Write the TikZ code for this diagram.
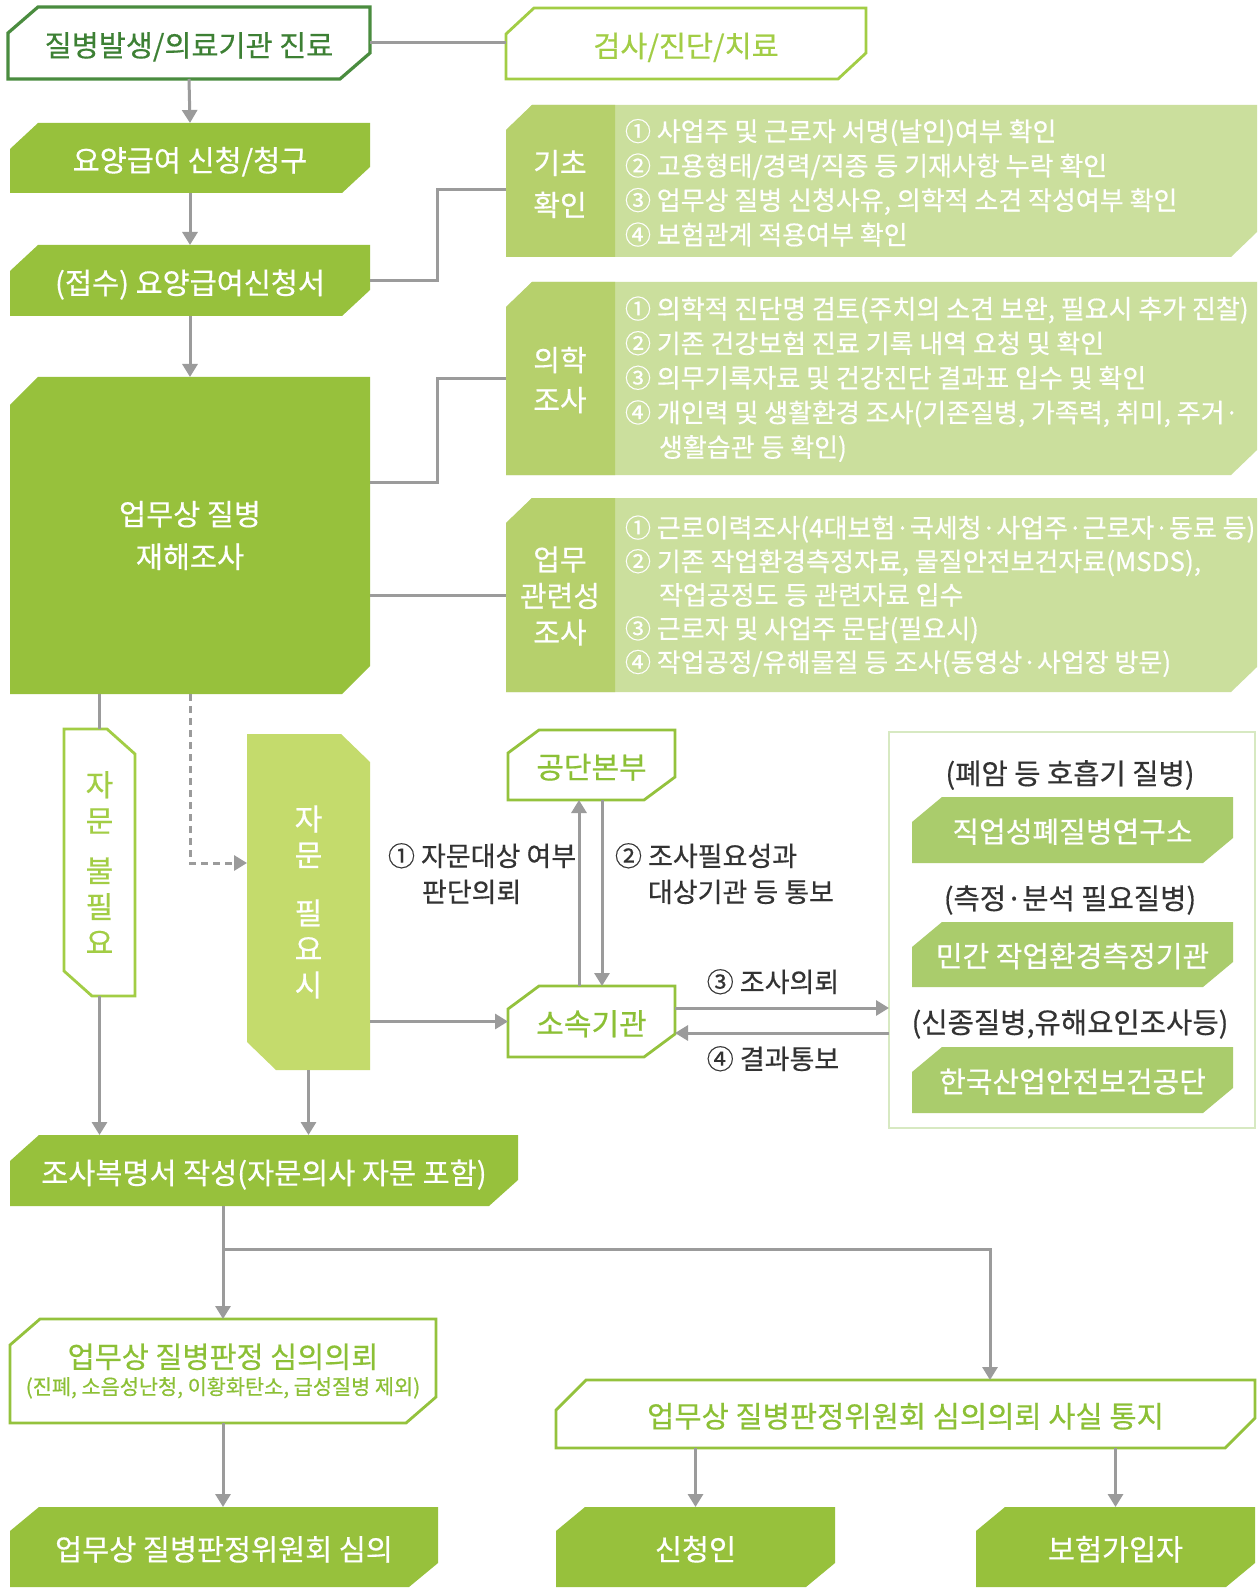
\documentclass[tikz,border=0pt]{standalone}
\usepackage{fontspec}
\setmainfont{Noto Sans CJK KR}[FakeBold=0.5]
\usetikzlibrary{calc,arrows.meta}
\pgfdeclarelayer{background}
\pgfsetlayers{background,main}
\definecolor{gMain}{HTML}{97C13C}
\definecolor{gDark}{HTML}{4A8C3F}
\definecolor{gDarkTxt}{HTML}{3D8034}
\definecolor{gBright}{HTML}{A2CD45}
\definecolor{gMid}{HTML}{94C23D}
\definecolor{gMidTxt}{HTML}{8CC036}
\definecolor{gPanL}{HTML}{B6D06C}
\definecolor{gPanR}{HTML}{CBDF9D}
\definecolor{gSoft}{HTML}{C4DB6C}
\definecolor{gSub}{HTML}{AACC6C}
\definecolor{gFrame}{HTML}{D7E9C2}
\definecolor{lineGray}{HTML}{9B9B9B}
\definecolor{txtDark}{HTML}{333333}

\newcommand\bnode[7]{\node[#1, minimum width={(#5-#3)*0.5pt}, minimum height={(#6-#4)*0.5pt}] (#2) at ({(#3+#5)/2},{(#4+#6)/2}) {#7};}
\newcommand\chamA[4]{\path[#1] ($(#2.north west)+(#3,0)$) -- (#2.north east) -- ($(#2.south east)+(0,-#4)$) -- ($(#2.south east)+(-#3,0)$) -- (#2.south west) -- ($(#2.north west)+(0,#4)$) -- cycle;}
\newcommand\chamB[4]{\path[#1] (#2.north west) -- ($(#2.north east)+(-#3,0)$) -- ($(#2.north east)+(0,#4)$) -- (#2.south east) -- ($(#2.south west)+(#3,0)$) -- ($(#2.south west)+(0,-#4)$) -- cycle;}
\newcommand\panelbg[1]{\chamA{fill=gPanR}{#1}{26}{25}\fill[gPanL] ($(#1.north west)+(26,0)$) -- ($(#1.north west)+(109,0)$) -- ($(#1.south west)+(109,0)$) -- (#1.south west) -- ($(#1.north west)+(0,25)$) -- cycle;}

\tikzset{
  every node/.style={inner sep=0pt, outer sep=0pt},
  one/.style={text height=1.39em, text depth=0.05em},
  box/.style={one, font=\fontsize{14.7}{18}\selectfont},
  fbox/.style={box, text=white},
  wbox/.style={one, text=gMidTxt, font=\fontsize{14.8}{18}\selectfont},
  subbox/.style={text height=1.3em, text depth=0.05em, text=white, font=\fontsize{14.5}{17}\selectfont},
  conn/.style={draw=lineGray, line width=1.5pt},
  arr/.style={conn, -{Triangle[width=7.5pt,length=6.5pt]}},
  darr/.style={arr, dash pattern=on 3.5pt off 2.5pt},
  ptxt/.style={anchor=base west, text=white, font=\fontsize{13}{15}\selectfont},
  plab/.style={text=white, align=center, font=\fontsize{14.5}{21}\selectfont},
  ltxt/.style={text=txtDark, font=\fontsize{13.5}{16}\selectfont},
  rtxt/.style={text=txtDark, font=\fontsize{14.3}{16}\selectfont},
  vtxt/.style={align=center, font=\fontsize{15}{18}\selectfont},
  wline/.style={line width=1.4pt, line join=miter},
}

\begin{document}
\begin{tikzpicture}[x=0.5pt, y=-0.5pt]
\useasboundingbox (0,0) rectangle (1259,1588);

% ---- top column
\bnode{box, text=gDarkTxt}{b1}{8}{7}{370}{79}{질병발생/의료기관 진료}
\bnode{box, text=gBright}{b2}{506}{8}{866}{79}{검사/진단/치료}
\bnode{fbox}{b3}{10}{123}{370}{193}{요양급여 신청/청구}
\bnode{fbox}{b4}{10}{245}{370}{316}{(접수) 요양급여신청서}
\bnode{text=white, align=center, font=\fontsize{14.7}{21.3}\selectfont}{b5}{10}{377}{370}{694}{업무상 질병\\재해조사}

% ---- panels
\bnode{}{pA}{506}{105}{1257}{257}{}
\bnode{}{pB}{506}{282}{1257}{475}{}
\bnode{}{pC}{506}{498}{1257}{692}{}
\node[plab] (pAl) at (560,184) {기초\\확인};
\node[plab, font=\fontsize{14.5}{20}\selectfont] (pBl) at (560,380) {의학\\조사};
\node[plab, font=\fontsize{14.5}{18.25}\selectfont] (pCl) at (560,596) {업무\\관련성\\조사};

\foreach \txt [count=\i] in {{① 사업주 및 근로자 서명(날인)여부 확인},{② 고용형태/경력/직종 등 기재사항 누락 확인},{③ 업무상 질병 신청사유, 의학적 소견 작성여부 확인},{④ 보험관계 적용여부 확인}}
  \node[ptxt] (pa\i) at (625,{141+34.5*(\i-1)}) {\txt};
\foreach \txt [count=\i] in {{① 의학적 진단명 검토(주치의 소견 보완, 필요시 추가 진찰)},{② 기존 건강보험 진료 기록 내역 요청 및 확인},{③ 의무기록자료 및 건강진단 결과표 입수 및 확인},{④ 개인력 및 생활환경 조사(기존질병, 가족력, 취미, 주거·},{\hspace*{17pt}생활습관 등 확인)}}
  \node[ptxt] (pb\i) at (625,{318.5+34.6*(\i-1)}) {\txt};
\foreach \txt [count=\i] in {{① 근로이력조사(4대보험·국세청·사업주·근로자·동료 등)},{② 기존 작업환경측정자료, 물질안전보건자료(MSDS),},{\hspace*{17pt}작업공정도 등 관련자료 입수},{③ 근로자 및 사업주 문답(필요시)},{④ 작업공정/유해물질 등 조사(동영상·사업장 방문)}}
  \node[ptxt] (pc\i) at (625,{537.5+33.6*(\i-1)}) {\txt};

% ---- middle part
\bnode{vtxt, text=gBright}{nb}{64}{729}{135}{996}{자\\문\\[7pt]불\\필\\요}
\bnode{vtxt, text=white}{ns}{247}{734}{370}{1070}{자\\문\\[11pt]필\\요\\시}
\bnode{wbox, font=\fontsize{15}{18}\selectfont}{gd}{508}{730}{675}{800}{공단본부}
\bnode{wbox, font=\fontsize{15}{18}\selectfont}{sk}{508}{986}{675}{1057}{소속기관}
\node[ltxt, anchor=base west] (q1a) at (388,866) {① 자문대상 여부};
\node[ltxt, anchor=base west] (q1b) at (422,902) {판단의뢰};
\node[ltxt, anchor=base west] (q2a) at (615,866) {② 조사필요성과};
\node[ltxt, anchor=base west] (q2b) at (648,902) {대상기관 등 통보};
\node[ltxt, anchor=base] (q3) at (773,992) {③ 조사의뢰};
\node[ltxt, anchor=base] (q4) at (773,1069) {④ 결과통보};

\bnode{}{rb}{889}{732}{1255}{1128}{}
\node[rtxt] (rl1) at (1070,775) {(폐암 등 호흡기 질병)};
\bnode{subbox}{r1}{912}{797}{1233}{863}{직업성폐질병연구소}
\node[rtxt] (rl2) at (1070,900) {(측정·분석 필요질병)};
\bnode{subbox}{r2}{912}{922}{1233}{987}{민간 작업환경측정기관}
\node[rtxt] (rl3) at (1070,1024) {(신종질병,유해요인조사등)};
\bnode{subbox}{r3}{912}{1047}{1233}{1113}{한국산업안전보건공단}

% ---- bottom part
\bnode{fbox}{jb}{10}{1135}{518}{1206}{조사복명서 작성(자문의사 자문 포함)}
\bnode{text=gMidTxt, align=center, font=\fontsize{14.7}{18}\selectfont}{sr}{10}{1319}{436}{1423}{업무상 질병판정 심의의뢰\\[-4.7pt]{\fontsize{10.4}{12}\selectfont (진폐, 소음성난청, 이황화탄소, 급성질병 제외)}}
\bnode{fbox}{sm}{10}{1507}{438}{1587}{업무상 질병판정위원회 심의}
\bnode{wbox}{tz}{556}{1380}{1255}{1448}{업무상 질병판정위원회 심의의뢰 사실 통지}
\bnode{fbox}{si}{556}{1507}{835}{1587}{신청인}
\bnode{fbox}{bh}{976}{1507}{1255}{1587}{보험가입자}

% ---- connectors
\draw[conn] (b1.east) -- (b1.east -| b2.west);
\draw[arr] (b1.south) -- (b3.north);
\draw[arr] (b3.south) -- (b4.north);
\draw[arr] (b4.south) -- (b5.north);
\draw[conn] (b4.east) -- ++(67,0) |- ([yshift=-4.5pt]pA.west);
\draw[conn] ([yshift=26.75pt]b5.east) -- ++(67,0) |- (pB.west);
\draw[conn] (pC.west -| b5.east) -- (pC.west);
\draw[conn] (b5.south -| nb.north) -- (nb.north);
\draw[arr] (nb.south) -- (nb.south |- jb.north);
\draw[darr] (b5.south) |- ([yshift=19.5pt]ns.west);
\draw[arr] (ns.east |- sk.west) -- (sk.west);
\draw[arr] (ns.south) -- (ns.south |- jb.north);
\draw[arr] ([xshift=-6.25pt]sk.north) -- ([xshift=-6.25pt]gd.south);
\draw[arr] ([xshift=5.25pt]gd.south) -- ([xshift=5.25pt]sk.north);
\coordinate (s3) at ([yshift=6.75pt]sk.east);
\coordinate (s4) at ([yshift=-5.75pt]sk.east);
\draw[arr] (s3) -- (s3 -| rb.west);
\draw[arr] (s4 -| rb.west) -- (s4);
\coordinate (jbs) at (jb.south -| sr.north);
\coordinate (br) at ($(jbs)+(0,43)$);
\coordinate (tzt) at ([xshift=42.25pt]tz.north);
\draw[arr] (jbs) -- (sr.north);
\draw[arr] (br) -| (tzt);
\draw[arr] (sr.south) -- (sr.south |- sm.north);
\draw[arr] (tz.south -| si.north) -- (si.north);
\draw[arr] (tz.south -| bh.north) -- (bh.north);

% ---- shapes
\begin{pgfonlayer}{background}
\fill[white] (0,0) rectangle (1259,1588);
\chamA{fill=white, draw=gDark, wline, line width=1.6pt}{b1}{30}{26}
\chamA{fill=white, draw=gBright, wline}{b2}{28}{26}
\chamA{fill=gMain}{b3}{28}{26}
\chamA{fill=gMain}{b4}{28}{26}
\chamA{fill=gMain}{b5}{28}{28}
\panelbg{pA}
\panelbg{pB}
\panelbg{pC}
\chamB{fill=white, draw=gBright, wline}{nb}{28}{25}
\chamB{fill=gSoft}{ns}{29}{28}
\chamA{fill=white, draw=gMid, wline}{gd}{31}{23}
\chamA{fill=white, draw=gMid, wline}{sk}{31}{23}
\draw[gFrame, line width=1.4pt] (rb.north west) rectangle (rb.south east);
\chamA{fill=gSub}{r1}{30}{25}
\chamA{fill=gSub}{r2}{30}{25}
\chamA{fill=gSub}{r3}{30}{25}
\chamA{fill=gMain}{jb}{29}{26}
\chamA{fill=white, draw=gMid, wline}{sr}{30}{26}
\chamA{fill=gMain}{sm}{29}{24}
\chamA{fill=white, draw=gMid, wline}{tz}{30}{30}
\chamA{fill=gMain}{si}{29}{24}
\chamA{fill=gMain}{bh}{29}{24}
\end{pgfonlayer}
\end{tikzpicture}
\end{document}
